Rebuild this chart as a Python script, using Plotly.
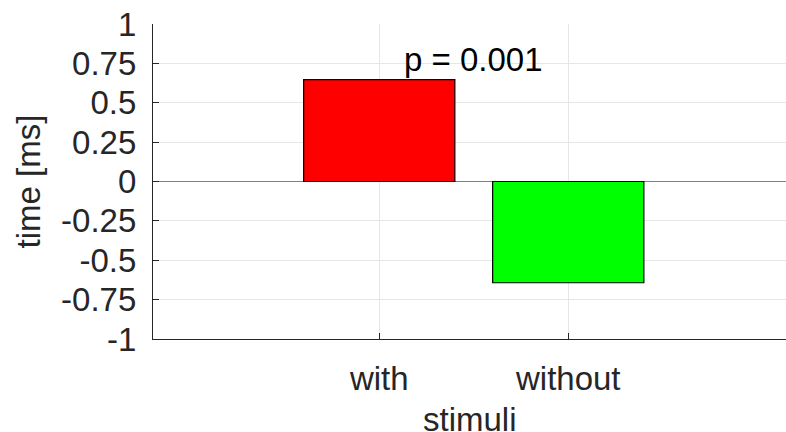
import plotly.graph_objects as go

categories = ["with", "without"]
x_pos = [1, 2]
values = [0.647, -0.643]
bar_colors = ["#ff0000", "#00ff00"]
y_ticks = [-1, -0.75, -0.5, -0.25, 0, 0.25, 0.5, 0.75, 1]
y_tick_labels = ["-1", "-0.75", "-0.5", "-0.25", "0", "0.25", "0.5", "0.75", "1"]
p_label = "p = 0.001"
x_title = "stimuli"
y_title = "time [ms]"

FONT = "Liberation Sans, Arial, Helvetica, sans-serif"
TXT = "#262626"

fig = go.Figure()
fig.add_trace(go.Bar(
    x=x_pos, y=values, width=0.8,
    marker=dict(color=bar_colors, line=dict(color="black", width=1.2)),
    showlegend=False,
))

fig.add_annotation(x=1.5, y=0.775, xref="x", yref="y", text=p_label,
                   showarrow=False, font=dict(family=FONT, size=33, color="black"),
                   xanchor="center", yanchor="middle")

fig.add_annotation(x=0.5, y=-0.255, xref="paper", yref="paper", text=x_title,
                   showarrow=False, font=dict(family=FONT, size=33, color=TXT),
                   xanchor="center", yanchor="middle")

fig.update_layout(
    width=786, height=432,
    margin=dict(l=153, r=0, t=24, b=93),
    paper_bgcolor="white", plot_bgcolor="white",
    font=dict(family=FONT, size=33, color=TXT),
    bargap=0.2,
    xaxis=dict(
        range=[-0.197, 3.152],
        tickvals=x_pos, ticktext=categories,
        showgrid=True, gridcolor="#e6e6e6", gridwidth=1,
        showline=True, linecolor=TXT, linewidth=1.2,
        ticks="inside", ticklen=6, tickcolor=TXT, tickwidth=1,
        zeroline=False, automargin=False,
        ticklabelstandoff=10,
        tickfont=dict(family=FONT, size=33, color=TXT),
    ),
    yaxis=dict(
        range=[-1, 1],
        tickvals=y_ticks, ticktext=y_tick_labels,
        showgrid=True, gridcolor="#e6e6e6", gridwidth=1,
        showline=True, linecolor=TXT, linewidth=1.2,
        ticks="inside", ticklen=6, tickcolor=TXT, tickwidth=1,
        zeroline=True, zerolinecolor="#808080", zerolinewidth=1.2,
        ticklabelstandoff=9, automargin=False,
        tickfont=dict(family=FONT, size=33, color=TXT),
        title=dict(text=y_title, font=dict(family=FONT, size=33, color=TXT), standoff=10),
    ),
)

fig.write_html("out.html", config={"displayModeBar": False},
               post_script="document.body.style.margin='0';document.body.style.overflow='hidden';")
